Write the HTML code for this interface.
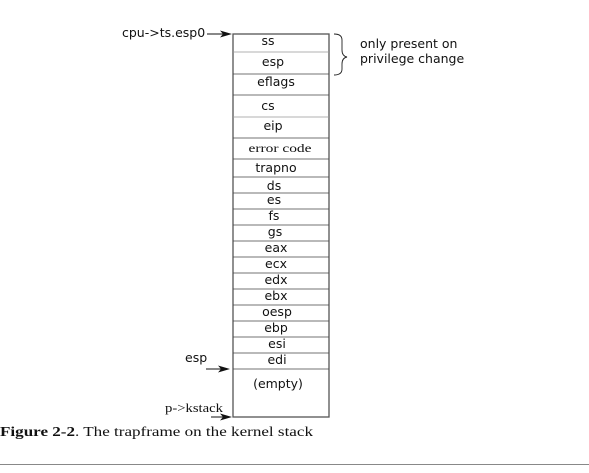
<!DOCTYPE html>
<html><head><style>
body{margin:0;background:#fff;width:589px;height:468px;overflow:hidden}
</style></head><body>
<svg width="589" height="468" xmlns="http://www.w3.org/2000/svg" font-family="DejaVu Sans, sans-serif" font-size="12">
<rect x="233" y="34" width="96" height="383" fill="none" stroke="#555" stroke-width="1.3"/>
<g stroke="#444" stroke-width="0.8">
<line x1="233" x2="329" y1="52" y2="52" stroke="#999"/>
<line x1="233" x2="329" y1="74" y2="74"/>
<line x1="233" x2="329" y1="95" y2="95"/>
<line x1="233" x2="329" y1="117" y2="117" stroke="#999"/>
<line x1="233" x2="329" y1="138" y2="138"/>
<line x1="233" x2="329" y1="159" y2="159"/>
<line x1="233" x2="329" y1="177" y2="177"/>
<line x1="233" x2="329" y1="193" y2="193"/>
<line x1="233" x2="329" y1="209" y2="209"/>
<line x1="233" x2="329" y1="225" y2="225"/>
<line x1="233" x2="329" y1="241" y2="241"/>
<line x1="233" x2="329" y1="257" y2="257"/>
<line x1="233" x2="329" y1="273" y2="273"/>
<line x1="233" x2="329" y1="289" y2="289"/>
<line x1="233" x2="329" y1="305" y2="305"/>
<line x1="233" x2="329" y1="321" y2="321"/>
<line x1="233" x2="329" y1="337" y2="337"/>
<line x1="233" x2="329" y1="353" y2="353"/>
<line x1="233" x2="329" y1="369" y2="369"/>
</g>
<g text-anchor="middle" fill="#111" font-size="12.5">
<text x="268" y="45">ss</text>
<text x="273" y="66">esp</text>
<text x="276" y="86">eflags</text>
<text x="268" y="110">cs</text>
<text x="273" y="130">eip</text>
<text x="280" y="152" font-family="Liberation Serif, serif" font-size="12" textLength="63" lengthAdjust="spacingAndGlyphs">error code</text>
<text x="276" y="172">trapno</text>
<text x="274" y="190">ds</text>
<text x="274" y="204">es</text>
<text x="274" y="220">fs</text>
<text x="275" y="236">gs</text>
<text x="276" y="252">eax</text>
<text x="276" y="268">ecx</text>
<text x="276" y="284">edx</text>
<text x="276" y="300">ebx</text>
<text x="277" y="316">oesp</text>
<text x="276" y="332">ebp</text>
<text x="277" y="348">esi</text>
<text x="277" y="364">edi</text>
<text x="278" y="388">(empty)</text>
</g>
<text x="122" y="37" fill="#111" font-size="12.5">cpu-&gt;ts.esp0</text>
<line x1="207" y1="34" x2="224" y2="34" stroke="#111"/>
<polygon points="232,34 220,30.5 223,34 220,37.5" fill="#111"/>
<text x="185" y="362" fill="#111" font-size="12.5">esp</text>
<line x1="206" y1="369" x2="222" y2="369" stroke="#111"/>
<polygon points="230,369 218,365.5 221,369 218,372.5" fill="#111"/>
<text x="165" y="412" font-family="Liberation Serif, serif" font-size="13" fill="#111" textLength="58" lengthAdjust="spacingAndGlyphs">p-&gt;kstack</text>
<line x1="211" y1="417" x2="224" y2="417" stroke="#111"/>
<polygon points="232,417 220,413.5 223,417 220,420.5" fill="#111"/>
<path d="M334,34 Q342,34 342,40 L342,50 Q342,56 347,57 Q342,58 342,64 L342,69 Q342,75 334,75" fill="none" stroke="#222" stroke-width="0.9"/>
<text x="360" y="48" fill="#111" font-size="12.5">only present on</text>
<text x="360" y="63" fill="#111" font-size="12.5">privilege change</text>
<text x="0" y="436" font-family="Liberation Serif, serif" font-size="14" fill="#111" textLength="313" lengthAdjust="spacingAndGlyphs"><tspan font-weight="bold">Figure 2-2</tspan>.  The trapframe on the kernel stack</text>
<line x1="0" y1="464.5" x2="589" y2="464.5" stroke="#888" stroke-width="1"/>
</svg>
</body></html>
